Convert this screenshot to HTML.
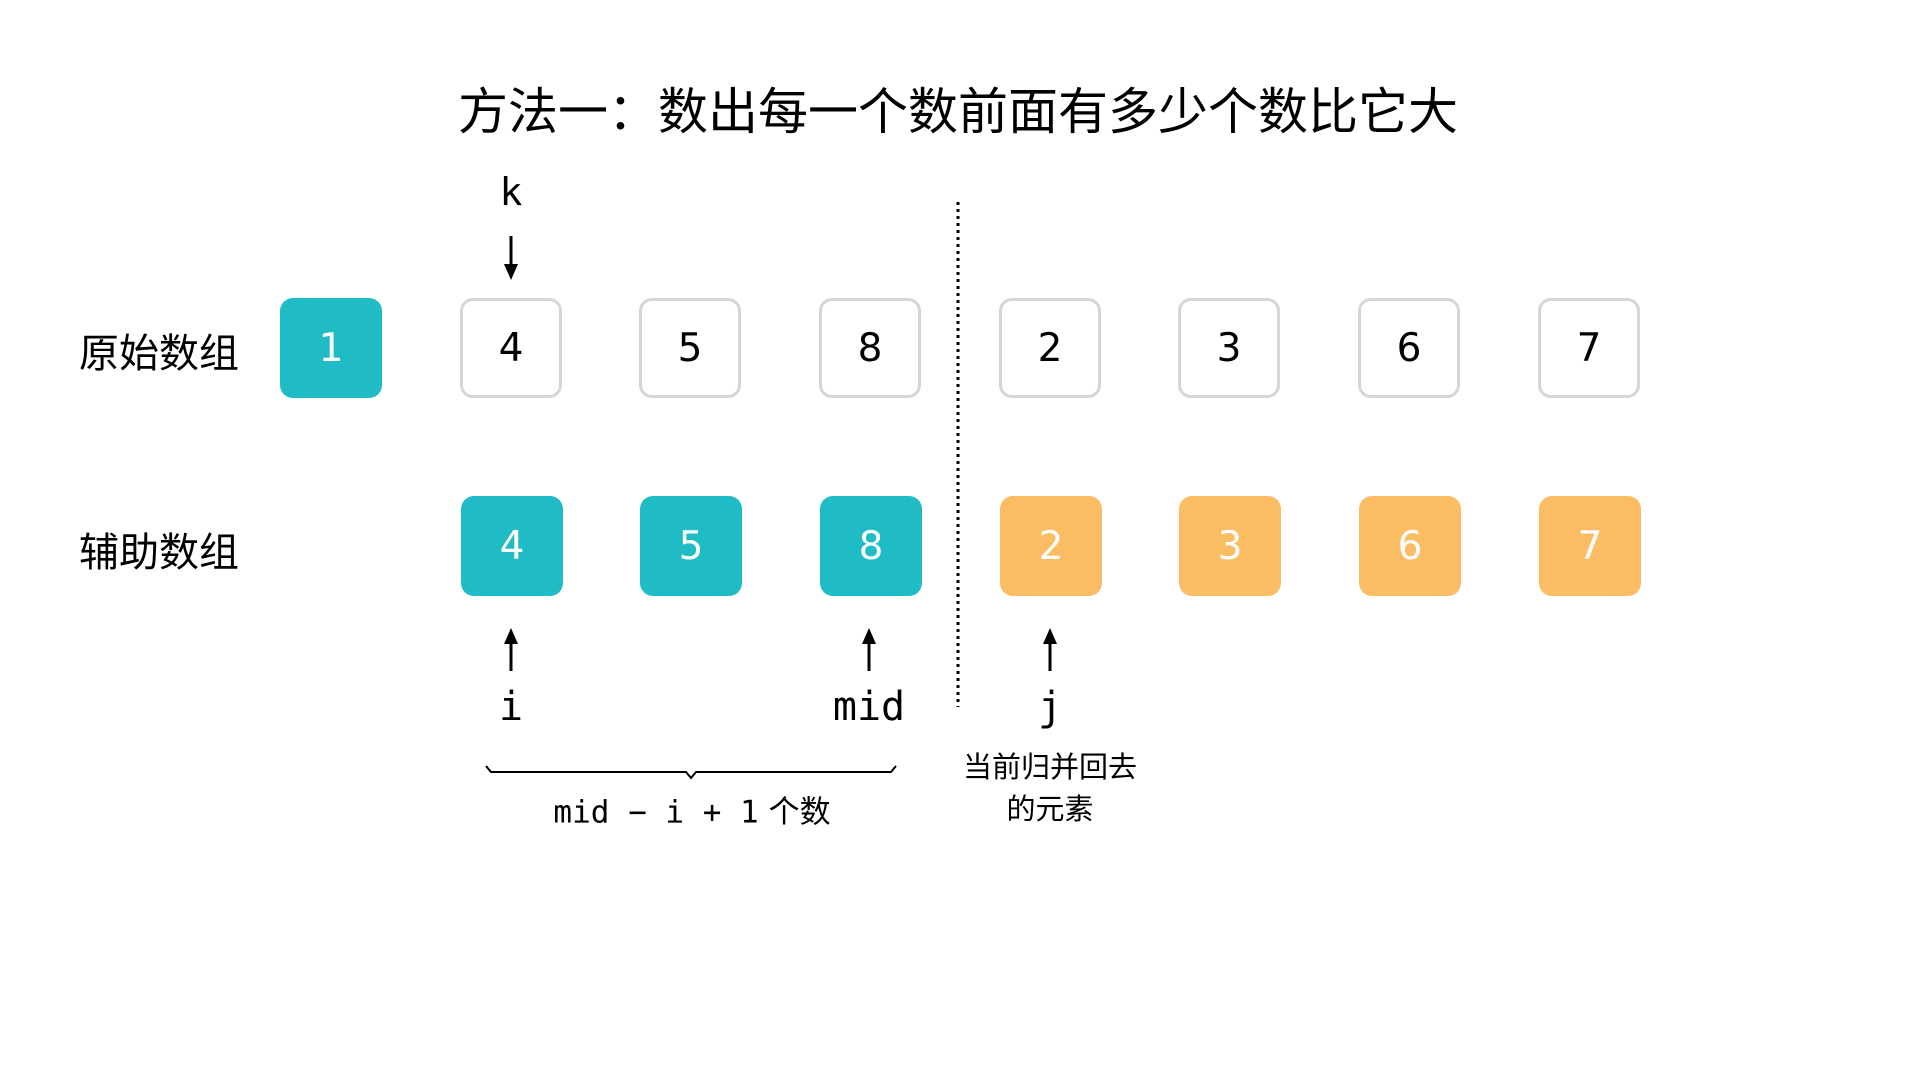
<!DOCTYPE html>
<html><head><meta charset="utf-8"><style>
body{margin:0;width:1920px;height:1080px;background:#fff;position:relative;overflow:hidden;font-family:"DejaVu Sans","Noto Sans CJK SC",sans-serif;}
.t{position:absolute;white-space:nowrap;transform:translate(-50%,-50%);color:#000}
.b{position:absolute;width:102px;height:100px;border-radius:13px;box-sizing:border-box;display:flex;align-items:center;justify-content:center;font-family:"DejaVu Sans",sans-serif;font-size:39px}
.w{border:3px solid #d6d6d6;background:#fff;color:#000}
.g{background:#1fbcc6;color:#fff}
.o{background:#fbbd63;color:#fff}
.m{font-family:"DejaVu Sans Mono","Liberation Mono",monospace}
</style></head><body>
<div class="t" style="left:958px;top:108px;font-size:50px;font-family:'Noto Sans CJK SC',sans-serif">方法一：数出每一个数前面有多少个数比它大</div>
<div class="t m" style="left:511px;top:192px;font-size:38px">k</div>
<div class="t" style="left:159px;top:350px;font-size:40px;font-family:'Noto Sans CJK SC',sans-serif">原始数组</div>
<div class="t" style="left:159px;top:549px;font-size:40px;font-family:'Noto Sans CJK SC',sans-serif">辅助数组</div>

<div class="b g" style="left:280px;top:298px">1</div>
<div class="b w" style="left:460px;top:298px">4</div>
<div class="b w" style="left:639px;top:298px">5</div>
<div class="b w" style="left:819px;top:298px">8</div>
<div class="b w" style="left:999px;top:298px">2</div>
<div class="b w" style="left:1178px;top:298px">3</div>
<div class="b w" style="left:1358px;top:298px">6</div>
<div class="b w" style="left:1538px;top:298px">7</div>

<div class="b g" style="left:461px;top:496px">4</div>
<div class="b g" style="left:640px;top:496px">5</div>
<div class="b g" style="left:820px;top:496px">8</div>
<div class="b o" style="left:1000px;top:496px">2</div>
<div class="b o" style="left:1179px;top:496px">3</div>
<div class="b o" style="left:1359px;top:496px">6</div>
<div class="b o" style="left:1539px;top:496px">7</div>

<svg width="1920" height="1080" style="position:absolute;left:0;top:0">
<line x1="958" y1="202" x2="958" y2="707" stroke="#000" stroke-width="3" stroke-dasharray="3,4"/>
<g stroke="#000" stroke-width="3">
<line x1="511" y1="236" x2="511" y2="268"/>
<line x1="511" y1="640" x2="511" y2="671"/>
<line x1="869" y1="640" x2="869" y2="671"/>
<line x1="1050" y1="640" x2="1050" y2="671"/>
</g>
<g fill="#000">
<polygon points="504,264 518,264 511,280"/>
<polygon points="504,644 518,644 511,628"/>
<polygon points="862,644 876,644 869,628"/>
<polygon points="1043,644 1057,644 1050,628"/>
</g>
<path d="M486,766 L491,772 L686,772 L691,778 L696,772 L891,772 L896,766" fill="none" stroke="#000" stroke-width="2"/>
</svg>

<div class="t m" style="left:511px;top:707px;font-size:40px">i</div>
<div class="t m" style="left:869px;top:707px;font-size:40px">mid</div>
<div class="t m" style="left:1050px;top:707px;font-size:40px">j</div>
<div class="t" style="left:692px;top:809px;font-size:31px"><span class="m">mid − i + 1</span> <span style="font-family:'Noto Sans CJK SC',sans-serif">个数</span></div>
<div class="t" style="left:1050px;top:765px;font-size:29px;font-family:'Noto Sans CJK SC',sans-serif">当前归并回去</div>
<div class="t" style="left:1050px;top:807px;font-size:29px;font-family:'Noto Sans CJK SC',sans-serif">的元素</div>
</body></html>
